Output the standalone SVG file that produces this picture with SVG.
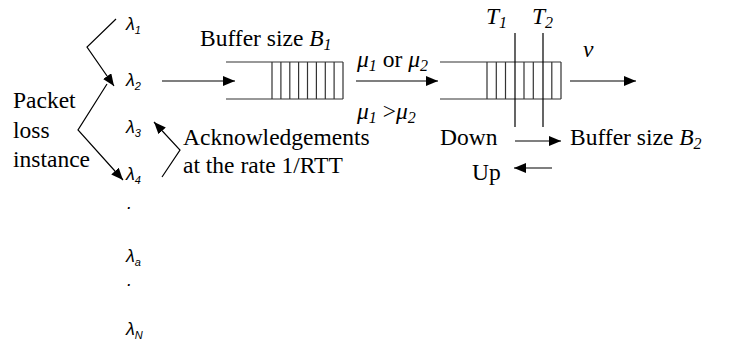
<svg xmlns="http://www.w3.org/2000/svg" width="734" height="347" viewBox="0 0 734 347">
<style>
.s{font-family:"Liberation Serif","Times New Roman",serif;font-size:23.5px;fill:#000}
.i{font-style:italic}
.l{font-family:"Liberation Sans",Arial,sans-serif;font-style:italic;font-size:18px;fill:#000}
.sub{font-size:11px}
.ssub{font-size:16px}
.ln{stroke:#000;stroke-width:1.2;fill:none}
.buf{stroke:#333;stroke-width:1.2;fill:none}
.ar{stroke:#000;stroke-width:1.2;fill:none;marker-end:url(#ah)}
</style>
<defs>
<marker id="ah" markerWidth="12" markerHeight="10" refX="12" refY="5" orient="auto" markerUnits="userSpaceOnUse"><path d="M0,0 L12,5 L0,10 z" fill="#000"/></marker>
</defs>
<rect width="734" height="347" fill="#fff"/>
<g id="lambda1"><text class="l" x="126" y="30">λ<tspan class="sub" dy="4">1</tspan></text></g>
<g id="lambda2"><text class="l" x="126" y="86">λ<tspan class="sub" dy="4">2</tspan></text></g>
<g id="lambda3"><text class="l" x="126" y="133">λ<tspan class="sub" dy="4">3</tspan></text></g>
<g id="lambda4"><text class="l" x="126" y="180">λ<tspan class="sub" dy="4">4</tspan></text></g>
<g id="dot1"><text class="l" x="127" y="209">.</text></g>
<g id="lambdaa"><text class="l" x="126" y="262">λ<tspan class="sub" dy="4">a</tspan></text></g>
<g id="dot2"><text class="l" x="127" y="286">.</text></g>
<g id="lambdaN"><text class="l" x="126" y="335">λ<tspan class="sub" dy="4">N</tspan></text></g>
<g id="packetloss"><text class="s" x="13" y="108">Packet</text><text class="s" x="13" y="138">loss</text><text class="s" x="13" y="167">instance</text></g>
<g id="ack"><text class="s" x="183" y="145">Acknowledgements</text><text class="s" x="183" y="173">at the rate 1/RTT</text></g>
<g id="buffer1">
<text class="s" x="200" y="46">Buffer size <tspan class="i">B</tspan><tspan class="i ssub" dy="4">1</tspan></text>
<path class="buf" d="M226,62H343M226,99H343M272,62V99M280.9,62V99M289.8,62V99M298.6,62V99M307.5,62V99M316.4,62V99M325.3,62V99M334.1,62V99M343,62V99"/>
</g>
<g id="rates"><text class="s" x="357" y="67"><tspan class="i">μ</tspan><tspan class="i ssub" dy="4">1</tspan><tspan dy="-4"> or </tspan><tspan class="i">μ</tspan><tspan class="i ssub" dy="4">2</tspan></text>
<text class="s" x="357" y="119"><tspan class="i">μ</tspan><tspan class="i ssub" dy="4">1</tspan><tspan dy="-4"> &gt;</tspan><tspan class="i">μ</tspan><tspan class="i ssub" dy="4">2</tspan></text></g>
<g id="buffer2">
<path class="buf" d="M440,62H561M440,99H561M487,62V99M496.3,62V99M505.5,62V99M524,62V99M533.3,62V99M551.8,62V99M561,62V99"/>
</g>
<g id="thresholds">
<path class="ln" d="M515,33V127M543,33V127"/>
<text class="s i" x="486" y="24">T<tspan class="ssub" dy="4">1</tspan></text>
<text class="s i" x="532" y="24">T<tspan class="ssub" dy="4">2</tspan></text>
</g>
<g id="nu"><text class="s i" x="583" y="57">ν</text></g>
<g id="down"><text class="s" x="440" y="145">Down</text></g>
<g id="up"><text class="s" x="472" y="180">Up</text></g>
<g id="buffer2label"><text class="s" x="570" y="145">Buffer size <tspan class="i">B</tspan><tspan class="i ssub" dy="4">2</tspan></text></g>
<g id="connectors">
<path class="ln" d="M116,19L87,47L114,86" marker-end="url(#ah)"/>
<path class="ln" d="M107,84L78,130L123,180" marker-end="url(#ah)"/>
<path class="ln" d="M162,177L180,150L154,122" marker-end="url(#ah)"/>
<path class="ar" d="M162,81H235"/>
<path class="ar" d="M356,81H438"/>
<path class="ar" d="M570,81H636"/>
<path class="ar" d="M515,141H561"/>
<path class="ar" d="M552,168H514"/>
</g>
</svg>
